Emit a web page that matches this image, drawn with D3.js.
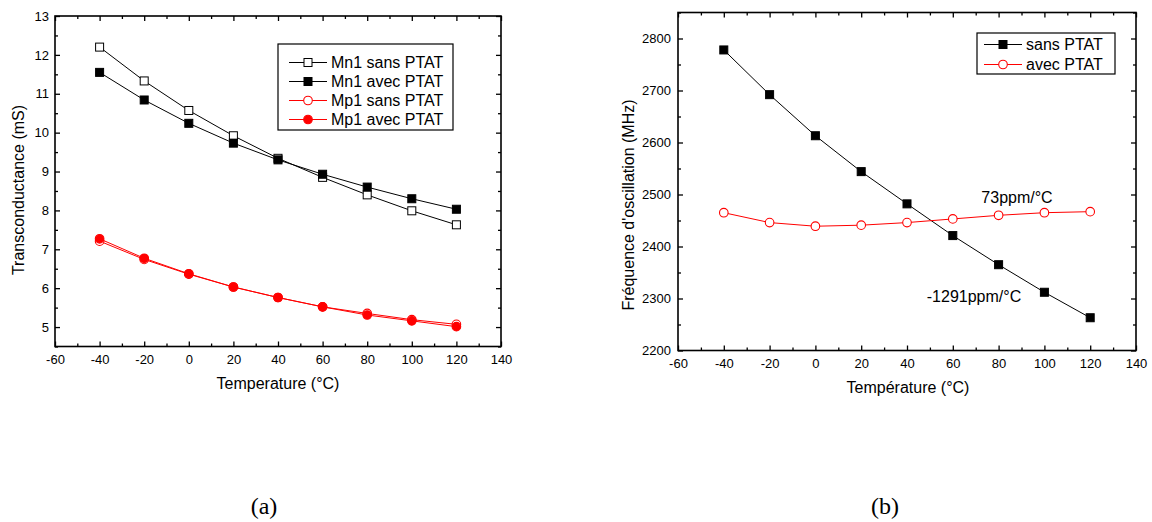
<!DOCTYPE html>
<html><head><meta charset="utf-8">
<script src="https://cdn.jsdelivr.net/npm/d3@7"></script>
<style>
body{margin:0;background:#fff;}
svg text{font-family:"Liberation Sans",Arial,sans-serif;fill:#000;}
</style></head>
<body>
<svg id="chart" width="1152" height="522"></svg>
<script>
// ---- data ----
const temps = [-40, -20, 0, 20, 40, 60, 80, 100, 120];
const mn1Sans = [12.2, 11.33, 10.57, 9.92, 9.34, 8.85, 8.40, 7.99, 7.63];
const mn1Avec = [11.55, 10.84, 10.24, 9.73, 9.30, 8.93, 8.60, 8.30, 8.03];
const mp1Sans = [7.21, 6.74, 6.36, 6.03, 5.76, 5.52, 5.35, 5.19, 5.07];
const mp1Avec = [7.27, 6.77, 6.37, 6.03, 5.76, 5.52, 5.31, 5.16, 5.01];
const freqSans = [2778, 2692, 2613, 2544, 2482, 2421, 2365, 2312, 2263];
const freqAvec = [2465, 2446, 2439, 2441, 2446, 2453, 2460, 2465, 2467];

const xTicks = [-60, -40, -20, 0, 20, 40, 60, 80, 100, 120, 140];
const yTicksA = [5, 6, 7, 8, 9, 10, 11, 12, 13];
const yTicksB = [2200, 2300, 2400, 2500, 2600, 2700, 2800];

const seriesA = [
  {name: "Mn1 sans PTAT", values: mn1Sans, color: "#000", shape: "square", filled: false},
  {name: "Mn1 avec PTAT", values: mn1Avec, color: "#000", shape: "square", filled: true},
  {name: "Mp1 sans PTAT", values: mp1Sans, color: "#ff0000", shape: "circle", filled: false},
  {name: "Mp1 avec PTAT", values: mp1Avec, color: "#ff0000", shape: "circle", filled: true}
];
const seriesB = [
  {name: "sans PTAT", values: freqSans, color: "#000", shape: "square", filled: true},
  {name: "avec PTAT", values: freqAvec, color: "#ff0000", shape: "circle", filled: false}
];

const svg = d3.select("#chart");
const fmt = d => String(d); // plain hyphen-minus like the reference

function marker(g, s, cx, cy) {
  const fill = s.filled ? s.color : "#fff";
  if (s.shape === "square") {
    g.append("rect").attr("x", cx - 4).attr("y", cy - 4).attr("width", 8).attr("height", 8)
      .attr("fill", fill).attr("stroke", s.color).attr("stroke-width", 1);
  } else {
    g.append("circle").attr("cx", cx).attr("cy", cy).attr("r", 4.3)
      .attr("fill", fill).attr("stroke", s.color).attr("stroke-width", 1.1);
  }
}

function panel(opt) {
  const {x0, x1, y0, y1, yDomain, yTicks, yMinorStep, yPad, series, xTitle, xTitleX, xTitleY, yTitle, yTitleX, yTitleY} = opt;
  const x = d3.scaleLinear().domain([-60, 140]).range([x0, x1]);
  const y = d3.scaleLinear().domain(yDomain).range([y1, y0]);
  const g = svg.append("g");

  const xMinor = d3.range(-60, 141, 10).filter(v => v % 20 !== 0);
  const yMinor = d3.range(yDomain[0], yDomain[1] + 1e-9, yMinorStep).filter(v => !yTicks.some(t => Math.abs(t - v) < 1e-9));

  const gb = g.append("g").attr("transform", `translate(0,${y1})`);
  gb.call(d3.axisBottom(x).tickValues(xTicks).tickSize(-5).tickPadding(8).tickFormat(fmt));
  gb.append("g").call(d3.axisBottom(x).tickValues(xMinor).tickSize(-3).tickFormat(""));
  const gt = g.append("g").attr("transform", `translate(0,${y0})`);
  gt.call(d3.axisTop(x).tickValues(xTicks).tickSize(-5).tickFormat(""));
  gt.append("g").call(d3.axisTop(x).tickValues(xMinor).tickSize(-3).tickFormat(""));
  const gl = g.append("g").attr("transform", `translate(${x0},0)`);
  gl.call(d3.axisLeft(y).tickValues(yTicks).tickSize(-5).tickPadding(yPad).tickFormat(fmt));
  gl.append("g").call(d3.axisLeft(y).tickValues(yMinor).tickSize(-3).tickFormat(""));
  const gr = g.append("g").attr("transform", `translate(${x1},0)`);
  gr.call(d3.axisRight(y).tickValues(yTicks).tickSize(-5).tickFormat(""));
  gr.append("g").call(d3.axisRight(y).tickValues(yMinor).tickSize(-3).tickFormat(""));

  g.selectAll(".domain").remove();
  g.selectAll(".tick line").attr("stroke", "#000").attr("stroke-width", 1.3);
  g.selectAll(".tick text").attr("font-size", 13).attr("font-family", "Liberation Sans, Arial, sans-serif").attr("fill", "#000");

  g.append("rect").attr("x", x0).attr("y", y0).attr("width", x1 - x0).attr("height", y1 - y0)
    .attr("fill", "none").attr("stroke", "#000").attr("stroke-width", 1.6);

  const line = d3.line().x((d, i) => x(temps[i])).y(d => y(d));
  series.forEach(s => {
    g.append("path").attr("d", line(s.values)).attr("fill", "none").attr("stroke", s.color).attr("stroke-width", 1);
  });
  series.forEach(s => {
    const mg = g.append("g");
    s.values.forEach((v, i) => marker(mg, s, x(temps[i]), y(v)));
  });

  g.append("text").attr("x", xTitleX).attr("y", xTitleY).attr("text-anchor", "middle").attr("font-size", 16).text(xTitle);
  g.append("text").attr("transform", `translate(${yTitleX},${yTitleY}) rotate(-90)`).attr("text-anchor", "middle").attr("font-size", 16).text(yTitle);
  return {g, x, y};
}

function legend(g, series, bx, by, bw, bh, rowY0, rowStep, lx0, lx1, tx) {
  g.append("rect").attr("x", bx).attr("y", by).attr("width", bw).attr("height", bh)
    .attr("fill", "#fff").attr("stroke", "#000").attr("stroke-width", 1.2);
  series.forEach((s, i) => {
    const yy = rowY0 + i * rowStep;
    g.append("line").attr("x1", lx0).attr("x2", lx1).attr("y1", yy).attr("y2", yy).attr("stroke", s.color).attr("stroke-width", 1);
    marker(g, s, (lx0 + lx1) / 2, yy);
    g.append("text").attr("x", tx).attr("y", yy).attr("dy", "0.36em").attr("font-size", 16).text(s.name);
  });
}

const A = panel({x0: 55, x1: 501, y0: 16, y1: 346.5, yDomain: [4.5, 13], yTicks: yTicksA, yMinorStep: 0.5, yPad: 6,
  series: seriesA, xTitle: "Temperature (°C)", xTitleX: 278, xTitleY: 389,
  yTitle: "Transconductance (mS)", yTitleX: 24, yTitleY: 190});
legend(A.g, seriesA, 278, 44, 175, 86, 62.5, 19, 289, 327, 331);

const B = panel({x0: 678, x1: 1136, y0: 12.5, y1: 350.5, yDomain: [2200, 2850], yTicks: yTicksB, yMinorStep: 50, yPad: 7,
  series: seriesB, xTitle: "Température (°C)", xTitleX: 908, xTitleY: 393,
  yTitle: "Fréquence d'oscillation (MHz)", yTitleX: 634, yTitleY: 205});
legend(B.g, seriesB, 977, 33, 138, 41, 44.5, 20, 984, 1022, 1026);

B.g.append("text").attr("x", 1017).attr("y", 203).attr("text-anchor", "middle").attr("font-size", 16).text("73ppm/°C");
B.g.append("text").attr("x", 974).attr("y", 302).attr("text-anchor", "middle").attr("font-size", 16).text("-1291ppm/°C");

svg.append("text").attr("x", 264).attr("y", 514).attr("text-anchor", "middle").attr("font-size", 24)
  .style("font-family", "'Liberation Serif','DejaVu Serif',serif").text("(a)");
svg.append("text").attr("x", 885).attr("y", 514).attr("text-anchor", "middle").attr("font-size", 24)
  .style("font-family", "'Liberation Serif','DejaVu Serif',serif").text("(b)");
</script>
</body></html>
